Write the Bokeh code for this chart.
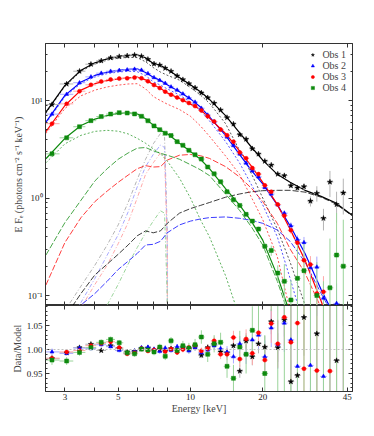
from bokeh.plotting import figure
from bokeh.layouts import column
from bokeh.models import FixedTicker, Legend, LegendItem, Range1d, LinearAxis, LogAxis, Span
from bokeh.embed import file_html
from bokeh.resources import INLINE

FONT = "Liberation Serif"

# ---------------- model curves ----------------
E_grid = [2.5, 3, 3.5, 4, 4.5, 5, 5.5, 6, 6.5, 7, 7.5, 8, 9, 10, 11, 12, 14, 16, 18, 20, 23, 26, 30, 35, 40, 47]

obs1_total = [7.6, 14.3, 20.5, 24.4, 26.8, 28.2, 29.0, 29.5, 27.5, 24.0, 23.0, 21.0, 17.2, 14.5, 12.3, 10.3, 7.0, 4.7, 3.3, 2.45, 1.75, 1.45, 1.2, 1.04, 0.9, 0.67]
obs1_disk = [7.4, 14.0, 20.0, 23.8, 26.0, 27.2, 27.8, 27.6, 25.0, 21.8, 19.6, 18.2, 16.2, 13.6, 11.4, 9.4, 5.8, 3.1, 1.75, 1.0, 0.48, 0.22, 0.08, 0.02, 0.005, 0.001]
obs1_comp = [0.03, 0.06, 0.105, 0.163, 0.21, 0.265, 0.33, 0.41, 0.46, 0.44, 0.46, 0.55, 0.70, 0.78, 0.84, 0.90, 1.02, 1.10, 1.16, 1.19, 1.2, 1.2, 1.15, 1.02, 0.88, 0.66]

obs2_total = [6.0, 11.3, 15.5, 18.1, 19.6, 20.4, 20.9, 21.2, 19.4, 17.3, 16.1, 14.5, 12.3, 10.4, 8.6, 6.8, 4.4, 2.8, 1.9, 1.4, 0.85, 0.52, 0.27, 0.115, 0.06, 0.029]
obs2_disk = [5.8, 11.0, 15.0, 17.5, 18.9, 19.6, 20.0, 19.8, 18.0, 15.6, 14.4, 13.2, 11.4, 9.6, 7.9, 6.2, 3.8, 2.3, 1.35, 0.85, 0.4, 0.15, 0.045, 0.01, 0.002, 0.0005]
obs2_comp = [0.03, 0.05, 0.08, 0.105, 0.14, 0.185, 0.225, 0.27, 0.33, 0.335, 0.36, 0.44, 0.53, 0.58, 0.61, 0.63, 0.64, 0.62, 0.59, 0.55, 0.47, 0.36, 0.22, 0.105, 0.058, 0.028]

obs3_total = [4.8, 8.9, 12.8, 14.9, 16.0, 16.7, 17.1, 17.4, 16.3, 14.6, 13.3, 12.0, 10.5, 9.2, 8.1, 6.6, 4.6, 3.05, 2.1, 1.45, 0.86, 0.48, 0.23, 0.088, 0.035, 0.012]
obs3_disk = [4.6, 8.3, 11.2, 12.8, 13.8, 14.4, 14.8, 14.9, 13.2, 11.0, 10.0, 9.2, 8.1, 6.9, 5.5, 4.3, 2.7, 1.75, 1.0, 0.6, 0.25, 0.07, 0.012, 0.002, 0.0005, 0.0001]
obs3_comp = [0.128, 0.35, 0.63, 0.92, 1.18, 1.45, 1.72, 2.0, 2.15, 2.08, 2.1, 2.45, 2.75, 2.8, 2.72, 2.55, 2.1, 1.65, 1.25, 0.92, 0.55, 0.3, 0.17, 0.075, 0.03, 0.01]

obs4_total = [2.53, 4.1, 5.55, 6.45, 7.0, 7.4, 7.5, 7.3, 6.5, 5.6, 4.95, 4.6, 3.65, 3.0, 2.5, 2.0, 1.25, 0.85, 0.57, 0.37, 0.16, 0.065, 0.02, 0.005, 0.0015, 0.0004]
obs4_disk = [2.3, 3.6, 4.4, 4.83, 4.95, 4.85, 4.55, 4.1, 3.65, 3.2, 2.85, 2.4, 1.6, 1.0, 0.6, 0.4, 0.16, 0.06, 0.025, 0.01, 0.003, 0.001, 0.0002, 0.0001, 0.0001, 0.0001]
obs4_comp = [0.26, 0.56, 0.95, 1.5, 2.0, 2.5, 2.9, 3.25, 3.3, 3.05, 2.88, 2.75, 2.5, 2.2, 1.95, 1.7, 1.1, 0.75, 0.5, 0.33, 0.14, 0.058, 0.018, 0.004, 0.001, 0.0003]

# relativistic iron lines
Fe_E = [3.0, 3.5, 4.0, 4.5, 5.0, 5.5, 6.0, 6.5, 7.0, 7.5, 7.8, 8.0, 8.05]
obs1_line = [0.07, 0.125, 0.205, 0.33, 0.53, 0.9, 1.55, 2.5, 3.6, 4.6, 4.2, 0.5, 0.001]
obs2_line = [0.05, 0.085, 0.15, 0.26, 0.42, 0.72, 1.3, 2.1, 2.8, 3.5, 3.3, 0.4, 0.001]
obs3_line = [0.045, 0.075, 0.13, 0.205, 0.34, 0.56, 1.0, 1.75, 2.3, 2.9, 2.7, 0.35, 0.001]
obs4_line = [0.01, 0.018, 0.03, 0.08, 0.13, 0.21, 0.31, 0.44, 0.58, 0.74, 0.7, 0.1, 0.001]

# ---------------- data points ----------------
E_pts = [2.65, 3.05, 3.45, 3.85, 4.25, 4.65, 5.05, 5.45, 5.85, 6.25, 6.65, 7.05, 7.45, 7.85, 8.3, 8.8, 9.3, 9.85,
         10.45, 11.1, 11.8, 12.55, 13.35, 14.2, 15.1, 16.05, 17.05, 18.1, 19.2, 20.4, 21.7, 23.1, 24.6, 26.2, 27.9,
         29.7, 31.6, 33.6, 35.8, 38.1, 40.6, 43.3]
E_edges = [2.45, 2.85, 3.25, 3.65, 4.05, 4.45, 4.85, 5.25, 5.65, 6.05, 6.45, 6.85, 7.25, 7.65, 8.05, 8.55, 9.05, 9.55,
           10.15, 10.75, 11.45, 12.15, 12.95, 13.75, 14.65, 15.55, 16.55, 17.55, 18.65, 19.8, 21.05, 22.4, 23.85,
           25.4, 27.05, 28.8, 30.65, 32.6, 34.7, 36.95, 39.35, 41.95, 44.7]

obs1_flux = [9.1, 14.8, 20.0, 23.6, 25.6, 27.5, 28.3, 28.8, 29.3, 28.5, 26.5, 23.8, 23.1, 21.5, 20.0, 17.9, 16.4, 14.9,
             13.5, 12.0, 10.7, 9.4, 8.0, 6.7, 5.75, 4.47, 4.02, 3.21, 2.83, 2.39, 2.18, 1.76, 1.70, 1.34, 1.27, 1.31,
             0.93, 1.12, 0.62, 1.46, 0.86, 1.13]
obs1_ratio = [0.981, 0.993, 1.004, 1.011, 0.998, 1.008, 1.002, 0.995, 0.996, 1.001, 1.003, 0.998, 1.000, 0.997, 1.002,
              0.999, 1.004, 1.001, 1.006, 0.988, 1.004, 1.010, 0.995, 0.993, 1.008, 0.955, 1.018, 0.985, 1.012, 1.005,
              1.058, 1.004, 1.062, 0.933, 0.946, 1.067, 0.80, 1.033, 0.62, 1.55, 0.977, 1.45]
obs1_err = [0.007, 0.005, 0.004, 0.004, 0.004, 0.003, 0.003, 0.003, 0.003, 0.003, 0.003, 0.004, 0.004, 0.004, 0.004,
            0.004, 0.005, 0.005, 0.006, 0.006, 0.007, 0.008, 0.009, 0.010, 0.012, 0.014, 0.016, 0.018, 0.020, 0.023,
            0.026, 0.030, 0.035, 0.045, 0.06, 0.08, 0.12, 0.18, 0.25, 0.3, 0.35, 0.4]

obs2_flux = [7.26, 11.6, 15.25, 17.5, 19.1, 20.0, 20.4, 20.7, 21.0, 20.5, 18.9, 17.2, 16.1, 15.05, 13.8, 12.8, 11.7,
             10.65, 9.65, 8.35, 7.1, 6.05, 5.0, 4.23, 3.45, 2.83, 2.28, 1.9, 1.65, 1.28, 1.10, 0.85, 0.70, 0.52, 0.376,
             0.35, 0.193, 0.196, 0.094, 0.053, 0.083, 0.024]
obs2_ratio = [0.995, 0.992, 1.003, 1.002, 1.010, 1.006, 0.998, 0.992, 0.997, 1.004, 1.005, 1.001, 0.996, 1.003, 0.998,
              1.006, 1.002, 0.997, 1.004, 0.993, 0.999, 1.008, 1.002, 0.995, 0.985, 1.012, 0.990, 1.020, 1.030, 0.985,
              1.045, 1.010, 1.055, 1.020, 0.965, 1.25, 0.967, 1.35, 0.944, 0.70, 1.5, 0.6]
obs2_err = [0.007, 0.005, 0.004, 0.004, 0.004, 0.004, 0.004, 0.004, 0.004, 0.004, 0.004, 0.004, 0.005, 0.005, 0.005,
            0.005, 0.006, 0.006, 0.007, 0.007, 0.008, 0.009, 0.010, 0.012, 0.014, 0.016, 0.020, 0.024, 0.028, 0.034,
            0.040, 0.050, 0.060, 0.08, 0.10, 0.14, 0.2, 0.28, 0.4, 0.5, 0.6, 0.7]

obs3_flux = [5.79, 9.25, 12.48, 14.5, 15.7, 16.46, 16.8, 16.9, 17.2, 16.93, 15.75, 14.44, 13.44, 12.35, 11.5, 10.74,
             10.1, 9.44, 8.78, 7.93, 6.91, 6.11, 5.05, 4.41, 3.79, 2.94, 2.56, 2.03, 1.76, 1.35, 1.16, 0.86, 0.66,
             0.467, 0.348, 0.23, 0.208, 0.105, 0.109, 0.048, 0.018, 0.032]
obs3_ratio = [0.982, 0.995, 0.998, 1.008, 1.013, 1.016, 1.004, 0.991, 0.993, 1.002, 0.997, 0.999, 1.003, 0.996, 1.001,
              0.994, 1.000, 1.004, 1.009, 0.997, 1.002, 1.018, 0.990, 0.990, 1.025, 0.980, 1.022, 0.992, 1.035, 0.978,
              1.054, 1.012, 1.067, 1.015, 1.055, 0.960, 1.30, 0.956, 1.45, 0.955, 0.55, 1.6]
obs3_err = [0.007, 0.005, 0.004, 0.004, 0.004, 0.004, 0.004, 0.004, 0.004, 0.004, 0.004, 0.004, 0.005, 0.005, 0.005,
            0.005, 0.006, 0.006, 0.007, 0.007, 0.008, 0.009, 0.010, 0.012, 0.014, 0.016, 0.020, 0.024, 0.028, 0.034,
            0.040, 0.050, 0.060, 0.08, 0.10, 0.15, 0.22, 0.3, 0.45, 0.6, 0.7, 0.8]

obs4_flux = [2.84, 4.15, 5.39, 6.22, 6.85, 7.27, 7.52, 7.45, 7.3, 6.9, 6.2, 5.5, 5.03, 4.63, 4.38, 3.79, 3.48, 3.09,
             2.78, 2.51, 2.08, 1.77, 1.47, 1.16, 0.96, 0.84, 0.68, 0.58, 0.48, 0.32, 0.29, 0.17, 0.14, 0.09, 0.15,
             0.18, 0.06, 0.10, 0.05, 0.12, 0.26, 0.20]
obs4_ratio = [0.978, 0.976, 0.994, 1.004, 1.015, 1.021, 1.014, 0.993, 0.991, 1.001, 0.999, 0.995, 1.005, 0.986, 1.018,
              0.998, 1.008, 1.003, 1.010, 1.026, 0.990, 1.012, 1.015, 0.965, 0.940, 1.005, 0.990, 1.040, 1.096, 0.950,
              1.20, 1.10, 1.40, 1.45, 2.2, 1.8, 2.5, 1.9, 2.6, 3.0, 2.4, 2.8]
obs4_err = [0.010, 0.008, 0.007, 0.006, 0.006, 0.006, 0.006, 0.006, 0.006, 0.006, 0.006, 0.007, 0.007, 0.008, 0.008,
            0.009, 0.010, 0.011, 0.012, 0.014, 0.016, 0.018, 0.020, 0.024, 0.028, 0.034, 0.040, 0.050, 0.060, 0.08,
            0.12, 0.2, 0.5, 0.6, 1.3, 1.0, 1.6, 1.2, 1.8, 2.2, 1.7, 2.0]

obs_labels = ["Obs 1", "Obs 2", "Obs 3", "Obs 4"]
colors = ["#000000", "#0000ff", "#ff0000", "#0e8a0e"]
light = ["#b4b4b4", "#a8a8ff", "#ffa8a8", "#9ad49a"]
markers = ["star", "triangle", "circle", "square"]
msizes = [5.5, 4, 4, 4]

totals = [obs1_total, obs2_total, obs3_total, obs4_total]
disks = [obs1_disk, obs2_disk, obs3_disk, obs4_disk]
comps = [obs1_comp, obs2_comp, obs3_comp, obs4_comp]
lines = [obs1_line, obs2_line, obs3_line, obs4_line]
fluxes = [obs1_flux, obs2_flux, obs3_flux, obs4_flux]
ratios = [obs1_ratio, obs2_ratio, obs3_ratio, obs4_ratio]
errs = [obs1_err, obs2_err, obs3_err, obs4_err]


def style_axis(ax, show_labels=True):
    ax.major_tick_in = 4
    ax.major_tick_out = 0
    ax.minor_tick_in = 2
    ax.minor_tick_out = 0
    ax.major_tick_line_color = "#333333"
    ax.minor_tick_line_color = "#333333"
    ax.axis_line_color = "#333333"
    ax.major_label_text_font = FONT
    ax.major_label_text_color = "#222222"
    ax.axis_label_text_font = FONT
    ax.axis_label_text_font_size = "10px"
    ax.axis_label_text_font_style = "normal"
    ax.major_label_text_font_size = "9px"
    ax.major_label_standoff = 3
    if not show_labels:
        ax.major_label_text_font_size = "1px"
        ax.major_label_text_alpha = 0
        ax.major_label_standoff = 0


x_ticks = [3, 4, 5, 6, 7, 8, 10, 20, 45]
x_over = {3: "3", 4: "", 5: "5", 6: "", 7: "", 8: "", 10: "10", 20: "20", 45: "45"}
y1_ticks = [0.1, 1, 10]
y1_minor = [0.08, 0.09, 0.2, 0.3, 0.4, 0.5, 0.6, 0.7, 0.8, 0.9, 2, 3, 4, 5, 6, 7, 8, 9, 20, 30]
y1_over = {0.1: "10\u207b\u00b9", 1: "10\u2070", 10: "10\u00b9"}
y2_ticks = [0.95, 1.0, 1.05]
y2_minor = [0.92, 0.93, 0.94, 0.96, 0.97, 0.98, 0.99, 1.01, 1.02, 1.03, 1.04, 1.06, 1.07, 1.08, 1.09]
y2_over = {0.95: "0.95", 1.0: "1.00", 1.05: "1.05"}

# ---------------- top panel ----------------
p1 = figure(width=366, height=305, x_axis_type="log", y_axis_type="log",
            x_range=Range1d(2.49, 47.3), y_range=Range1d(0.079, 38.5),
            output_backend="svg", toolbar_location=None,
            min_border_left=45, min_border_right=14, min_border_top=43, min_border_bottom=0)
p1.grid.visible = False
p1.outline_line_color = "#333333"

p1.xaxis.ticker = FixedTicker(ticks=x_ticks, minor_ticks=[])
style_axis(p1.xaxis[0], show_labels=False)
p1.yaxis.ticker = FixedTicker(ticks=y1_ticks, minor_ticks=y1_minor)
p1.yaxis.major_label_overrides = y1_over
style_axis(p1.yaxis[0])
p1.yaxis.axis_label = "E F\u2091 (photons cm\u207b\u00b2 s\u207b\u00b9 keV\u207b\u00b9)"
p1.yaxis.axis_label_standoff = 1

top1 = LogAxis(ticker=FixedTicker(ticks=x_ticks, minor_ticks=[]))
style_axis(top1, show_labels=False)
p1.add_layout(top1, "above")
right1 = LogAxis(ticker=FixedTicker(ticks=y1_ticks, minor_ticks=y1_minor))
style_axis(right1, show_labels=False)
p1.add_layout(right1, "right")

for i in range(4):
    p1.line(Fe_E, lines[i], line_color=light[i], line_width=1, line_dash="4 2 1 2")
for i in range(4):
    p1.line(E_grid, disks[i], line_color=colors[i], line_width=0.9, line_dash="2 2", line_alpha=0.75)
    p1.line(E_grid, comps[i], line_color=colors[i], line_width=0.9, line_dash="6 2", line_alpha=0.85)
for i in range(4):
    p1.line(E_grid, totals[i], line_color=colors[i], line_width=1.2)

scatter_r = []
for i in range(4):
    f = fluxes[i]
    e = errs[i]
    ylo = [max(v * (1 - d), 1e-4) for v, d in zip(f, e)]
    yhi = [v * (1 + d) for v, d in zip(f, e)]
    p1.segment(x0=E_pts, y0=ylo, x1=E_pts, y1=yhi, line_color=light[i], line_width=1)
    p1.segment(x0=E_edges[:-1], y0=f, x1=E_edges[1:], y1=f, line_color=light[i], line_width=1)
for i in range(4):
    r = p1.scatter(E_pts, fluxes[i], marker=markers[i], size=msizes[i], fill_color=colors[i],
                   line_color=colors[i], line_width=0.5)
    scatter_r.append(r)

legend = Legend(items=[LegendItem(label=obs_labels[i], renderers=[scatter_r[i]]) for i in range(4)],
                location="top_right")
legend.label_text_font = FONT
legend.label_text_font_size = "10px"
legend.label_height = 9
legend.glyph_height = 9
legend.glyph_width = 8
legend.spacing = 0
legend.padding = 2
legend.margin = 4
legend.label_standoff = 6
legend.background_fill_alpha = 0
legend.border_line_alpha = 0
p1.add_layout(legend)

# ---------------- ratio panel ----------------
p2 = figure(width=366, height=112, x_axis_type="log",
            x_range=p1.x_range, y_range=Range1d(0.9125, 1.0917),
            output_backend="svg", toolbar_location=None,
            min_border_left=45, min_border_right=14, min_border_top=0, min_border_bottom=26)
p2.grid.visible = False
p2.outline_line_color = "#333333"

p2.xaxis.ticker = FixedTicker(ticks=x_ticks, minor_ticks=[])
p2.xaxis.major_label_overrides = x_over
style_axis(p2.xaxis[0])
p2.xaxis.major_label_standoff = 2
p2.xaxis.axis_label = "Energy [keV]"
p2.xaxis.axis_label_standoff = 0
p2.yaxis.ticker = FixedTicker(ticks=y2_ticks, minor_ticks=y2_minor)
p2.yaxis.major_label_overrides = y2_over
style_axis(p2.yaxis[0])
p2.yaxis.axis_label = "Data/Model"
p2.yaxis.axis_label_standoff = 1

top2 = LogAxis(ticker=FixedTicker(ticks=x_ticks, minor_ticks=[]))
style_axis(top2, show_labels=False)
p2.add_layout(top2, "above")
right2 = LinearAxis(ticker=FixedTicker(ticks=y2_ticks, minor_ticks=y2_minor))
style_axis(right2, show_labels=False)
p2.add_layout(right2, "right")

p2.add_layout(Span(location=1.0, dimension="width", line_color="#c0c0c0", line_dash="2 2", line_width=1))

for i in range(4):
    rr = ratios[i]
    e = errs[i]
    p2.segment(x0=E_pts, y0=[v - d for v, d in zip(rr, e)], x1=E_pts, y1=[v + d for v, d in zip(rr, e)],
               line_color=light[i], line_width=1)
    p2.segment(x0=E_edges[:-1], y0=rr, x1=E_edges[1:], y1=rr, line_color=light[i], line_width=1)
for i in range(4):
    p2.scatter(E_pts, ratios[i], marker=markers[i], size=msizes[i], fill_color=colors[i],
               line_color=colors[i], line_width=0.5)

layout = column(p1, p2, spacing=0)
open("out.html", "w").write(file_html(layout, INLINE))
